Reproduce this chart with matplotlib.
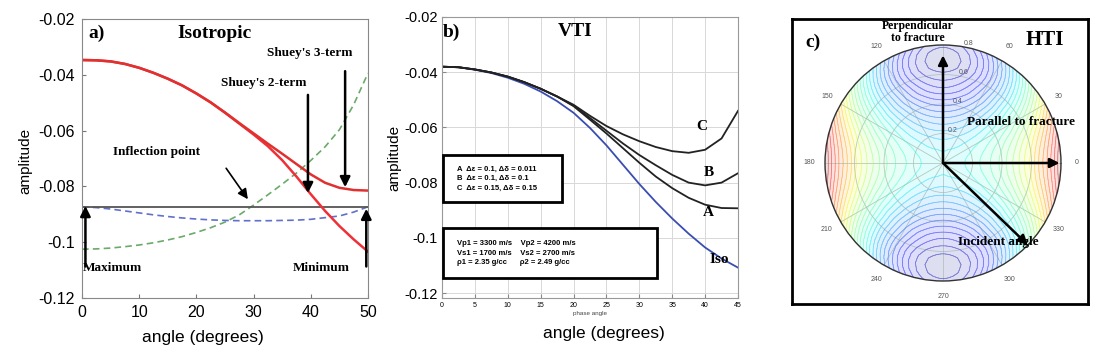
import numpy as np
import matplotlib
matplotlib.use('Agg')
import matplotlib.pyplot as plt
from matplotlib.colors import TwoSlopeNorm
from matplotlib.ticker import FuncFormatter

plt.rcParams['font.family'] = ['Liberation Sans', 'DejaVu Sans']

# a) isotropic AVO curves
angle_a = [0, 2.5, 5, 7.5, 10, 12.5, 15, 17.5, 20, 22.5, 25, 27.5, 30, 32.5, 35, 37.5, 40, 42.5, 45, 47.5, 50]
shuey3 = [-0.0347, -0.0348, -0.0352, -0.0361, -0.0375, -0.0393, -0.0414, -0.0438, -0.0467, -0.0499, -0.0535,
          -0.0573, -0.0610, -0.0647, -0.0683, -0.0720, -0.0757, -0.0787, -0.0805, -0.0813, -0.0815]
shuey2 = [-0.0347, -0.0348, -0.0352, -0.0361, -0.0375, -0.0393, -0.0414, -0.0438, -0.0467, -0.0499, -0.0536,
          -0.0575, -0.0614, -0.0656, -0.0706, -0.0765, -0.0828, -0.0888, -0.0942, -0.0990, -0.1034]
green_a = [-0.1025, -0.1024, -0.1021, -0.1016, -0.1010, -0.1002, -0.0992, -0.0980, -0.0965, -0.0948, -0.0928,
           -0.0902, -0.0867, -0.0830, -0.0792, -0.0752, -0.0707, -0.0658, -0.0597, -0.0507, -0.0394]
blue_a = [-0.0873, -0.0876, -0.0881, -0.0888, -0.0895, -0.0902, -0.0908, -0.0913, -0.0917, -0.0920, -0.0922,
          -0.0923, -0.0923, -0.0923, -0.0922, -0.0921, -0.0918, -0.0912, -0.0906, -0.0892, -0.0873]
flat_a = -0.0873

# b) VTI curves
angle_b = [0, 2.5, 5, 7.5, 10, 12.5, 15, 17.5, 20, 22.5, 25, 27.5, 30, 32.5, 35, 37.5, 40, 42.5, 45]
iso_b = [-0.0380, -0.0382, -0.0391, -0.0403, -0.0420, -0.0442, -0.0470, -0.0505, -0.0547, -0.0602,
         -0.0665, -0.0735, -0.0805, -0.0870, -0.0930, -0.0985, -0.1035, -0.1075, -0.1108]
vti_a = [-0.0380, -0.0382, -0.0390, -0.0401, -0.0416, -0.0436, -0.0460, -0.0488, -0.0523, -0.0572,
         -0.0622, -0.0675, -0.0728, -0.0778, -0.0820, -0.0855, -0.0880, -0.0892, -0.0893]
vti_b = [-0.0380, -0.0382, -0.0390, -0.0401, -0.0416, -0.0436, -0.0460, -0.0488, -0.0521, -0.0566,
         -0.0612, -0.0658, -0.0700, -0.0737, -0.0772, -0.0800, -0.0810, -0.0800, -0.0766]
vti_c = [-0.0380, -0.0382, -0.0390, -0.0401, -0.0416, -0.0436, -0.0460, -0.0488, -0.0518, -0.0558,
         -0.0595, -0.0625, -0.0650, -0.0671, -0.0686, -0.0692, -0.0681, -0.0640, -0.0540]
legend1 = ['A  \u0394\u03b5 = 0.1, \u0394\u03b4 = 0.011',
           'B  \u0394\u03b5 = 0.1, \u0394\u03b4 = 0.1',
           'C  \u0394\u03b5 = 0.15, \u0394\u03b4 = 0.15']
legend2 = ['Vp1 = 3300 m/s    Vp2 = 4200 m/s',
           'Vs1 = 1700 m/s    Vs2 = 2700 m/s',
           '\u03c11 = 2.35 g/cc      \u03c12 = 2.49 g/cc']

# c) HTI amplitude vs incidence (rad), perpendicular and parallel to fractures
inc_c = [0, 0.1, 0.2, 0.3, 0.4, 0.5, 0.6, 0.65, 0.7, 0.75, 0.8]
perp_c = [-0.035, -0.037, -0.043, -0.052, -0.062, -0.072, -0.080, -0.083, -0.084, -0.083, -0.080]
par_c = [-0.035, -0.034, -0.031, -0.026, -0.019, -0.010, 0.001, 0.008, 0.015, 0.023, 0.032]
az_labels = ['0', '30', '60', '', '120', '150', '180', '210', '240', '270', '300', '330']

serif = ['Liberation Serif', 'DejaVu Serif']
W, H = 1100, 360


def fpos(x, y):
    return x / W, 1 - y / H


fig = plt.figure(figsize=(11, 3.6), dpi=100)
fig.patch.set_facecolor('white')

# ---------------- panel a
ax = fig.add_axes([82 / W, 1 - 298 / H, 286 / W, 279 / H])
ax.plot(angle_a, green_a, color='#6aaa6a', lw=1.2, dashes=(4, 2.5))
ax.plot(angle_a, blue_a, color='#6070cc', lw=1.2, dashes=(4, 2.5))
ax.axhline(flat_a, color='#555555', lw=1.3)
ax.plot(angle_a, shuey2, color='#ee3038', lw=1.8)
ax.plot(angle_a, shuey3, color='#e03030', lw=1.8)
ax.set_xlim(0, 50)
ax.set_ylim(-0.12, -0.02)
ax.set_xticks([0, 10, 20, 30, 40, 50])
ax.set_yticks([-0.12, -0.1, -0.08, -0.06, -0.04, -0.02])
ax.yaxis.set_major_formatter(FuncFormatter(lambda v, p: '%g' % v))
ax.tick_params(direction='in', length=3, labelsize=11.5, color='#777777', pad=5)
for s in ax.spines.values():
    s.set_color('#888888')
ax.text(-0.199, 0.49, 'amplitude', transform=ax.transAxes, rotation=90, ha='center', va='center', fontsize=11)
ax.text(0.423, -0.143, 'angle (degrees)', transform=ax.transAxes, ha='center', va='center', fontsize=12.5)

ax.text(1.2, -0.0251, 'a)', fontsize=14, fontweight='bold', family=serif, va='center')
ax.text(23.1, -0.0251, 'Isotropic', fontsize=14, fontweight='bold', family=serif, ha='center', va='center')
lab = dict(fontsize=9.5, fontweight='bold', family=serif, ha='center', va='center')
ax.text(39.9, -0.0322, "Shuey's 3-term", **lab)
ax.text(31.8, -0.0430, "Shuey's 2-term", **lab)
ax.text(13.1, -0.0677, 'Inflection point', **lab)
ax.text(5.3, -0.1092, 'Maximum', **lab)
ax.text(41.8, -0.1092, 'Minimum', **lab)
arw = dict(arrowstyle='-|>', color='black', lw=1.8, mutation_scale=15, shrinkA=0, shrinkB=0)
ax.annotate('', xy=(39.5, -0.0824), xytext=(39.5, -0.0472), arrowprops=arw)
ax.annotate('', xy=(46.0, -0.0803), xytext=(46.0, -0.0387), arrowprops=arw)
ax.annotate('', xy=(29.0, -0.0846), xytext=(25.2, -0.0735),
            arrowprops=dict(arrowstyle='-|>', color='black', lw=1.2, mutation_scale=15, shrinkA=0, shrinkB=0))
ax.annotate('', xy=(0.6, -0.0870), xytext=(0.6, -0.1087), arrowprops=arw, annotation_clip=False)
ax.annotate('', xy=(49.7, -0.0880), xytext=(49.7, -0.1087), arrowprops=arw, annotation_clip=False)

# ---------------- panel b
bx = fig.add_axes([442 / W, 1 - 298 / H, 296 / W, 281 / H])
bx.grid(True, color='#d8d8d8', lw=0.7)
bx.set_axisbelow(True)
bx.plot(angle_b, iso_b, color='#3a4db0', lw=1.3)
bx.plot(angle_b, vti_a, color='#222222', lw=1.3)
bx.plot(angle_b, vti_b, color='#222222', lw=1.3)
bx.plot(angle_b, vti_c, color='#222222', lw=1.3)
bx.set_xlim(0, 45)
bx.set_ylim(-0.1218, -0.02)
bx.set_xticks(range(0, 46, 5))
bx.set_yticks([-0.12, -0.1, -0.08, -0.06, -0.04, -0.02])
bx.yaxis.set_major_formatter(FuncFormatter(lambda v, p: '%g' % v))
bx.tick_params(axis='y', direction='in', length=3, labelsize=10.5, color='#888888', pad=3)
bx.tick_params(axis='x', direction='in', length=3, labelsize=5, color='#888888', pad=3)
for s in bx.spines.values():
    s.set_color('#999999')
bx.set_xlabel('phase angle', fontsize=4.5, labelpad=1, color='#444444')
bx.text(-0.162, 0.498, 'amplitude', transform=bx.transAxes, rotation=90, ha='center', va='center', fontsize=11)
bx.text(0.547, -0.125, 'angle (degrees)', transform=bx.transAxes, ha='center', va='center', fontsize=12.5)
bx.text(0.15, -0.0254, 'b)', fontsize=14, fontweight='bold', family=serif, va='center')
bx.text(20.2, -0.0254, 'VTI', fontsize=14, fontweight='bold', family=serif, ha='center', va='center')
cl = dict(fontsize=11, fontweight='bold', family=serif, ha='center', va='center')
bx.text(39.5, -0.0595, 'C', **cl)
bx.text(40.5, -0.0764, 'B', **cl)
bx.text(40.5, -0.0909, 'A', **cl)
bx.text(42.1, -0.1080, 'Iso', **cl)

bx.add_patch(plt.Rectangle((0.004, 0.342), 0.40, 0.167, transform=bx.transAxes,
                           fill=True, facecolor='white', edgecolor='black', lw=2, zorder=4))
bx.add_patch(plt.Rectangle((0.004, 0.071), 0.722, 0.178, transform=bx.transAxes,
                           fill=True, facecolor='white', edgecolor='black', lw=2, zorder=4))
bx.text(0.05, 0.425, '\n'.join(legend1), transform=bx.transAxes, fontsize=5.5, fontweight='bold',
        va='center', ha='left', linespacing=1.5, zorder=5)
bx.text(0.05, 0.16, '\n'.join(legend2), transform=bx.transAxes, fontsize=5.5, fontweight='bold',
        va='center', ha='left', linespacing=1.5, zorder=5)

# ---------------- panel c
frame = fig.add_axes([792 / W, 1 - 304 / H, 296 / W, 285 / H])
frame.set_xticks([])
frame.set_yticks([])
for s in frame.spines.values():
    s.set_linewidth(2)
    s.set_color('black')

cx = fig.add_axes([825 / W, 1 - 281 / H, 236 / W, 236 / H], projection='polar')
az = np.linspace(0, 2 * np.pi, 241)
T, R = np.meshgrid(az, inc_c)
P = np.array(perp_c)[:, None]
Q = np.array(par_c)[:, None]
Z = P + (Q - P) * np.cos(T) ** 2
norm = TwoSlopeNorm(vmin=-0.086, vcenter=-0.015, vmax=0.033)
levels = np.linspace(-0.085, 0.032, 30)
cx.contourf(T, R, Z, levels=levels, cmap='jet', norm=norm, alpha=0.13)
cx.contour(T, R, Z, levels=levels, cmap='jet', norm=norm, linewidths=0.6, alpha=0.4)
cx.set_ylim(0, 0.8)
cx.set_rticks([0.2, 0.4, 0.6, 0.8])
cx.set_rlabel_position(80)
cx.set_thetagrids(range(0, 360, 30), az_labels)
cx.tick_params(labelsize=5, colors='#555555', pad=1)
cx.grid(True, color='#a8bcb4', lw=0.6, alpha=0.8)
cx.spines['polar'].set_linestyle((0, (2, 1)))
cx.spines['polar'].set_color('#333333')
cx.spines['polar'].set_linewidth(1)

arw2 = dict(arrowstyle='-|>', color='black', lw=1.8, mutation_scale=14, shrinkA=0, shrinkB=0)
cx.annotate('', xy=(np.pi / 2, 0.73), xytext=(0, 0), arrowprops=arw2, annotation_clip=False)
cx.annotate('', xy=(0, 0.79), xytext=(0, 0), arrowprops=arw2, annotation_clip=False)
cx.annotate('', xy=(np.radians(-44), 0.80), xytext=(0, 0), arrowprops=arw2, annotation_clip=False)

ct = dict(fontweight='bold', family=serif)
fig.text(*fpos(805, 42), 'c)', fontsize=14, va='center', ha='left', **ct)
fig.text(*fpos(1045, 40), 'HTI', fontsize=15, va='center', ha='center', **ct)
fig.text(*fpos(918, 32), 'Perpendicular\nto fracture', fontsize=8.5, va='center', ha='center',
         linespacing=1.0, **ct)
fig.text(*fpos(967, 122), 'Parallel to fracture', fontsize=9.5, va='center', ha='left', **ct)
fig.text(*fpos(958, 242), 'Incident angle', fontsize=9.5, va='center', ha='left', **ct)

fig.savefig('out.png', dpi=100, facecolor='white')
